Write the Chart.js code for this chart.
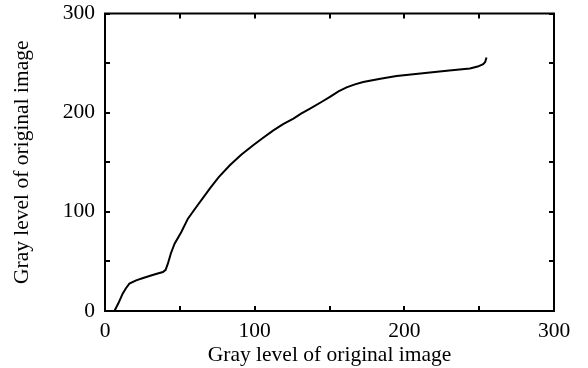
<!DOCTYPE html>
<html>
<head>
<meta charset="utf-8">
<script src="https://cdn.jsdelivr.net/npm/chart.js@4.4.0/dist/chart.umd.min.js"></script>
<style>
  html, body { margin: 0; padding: 0; background: #ffffff; }
  #wrap { width: 588px; height: 368px; }
</style>
</head>
<body>
<div id="wrap"><canvas id="grayChart" width="588" height="368"></canvas></div>
<script>
// ------------------------------------------------------
// gray level mapping curve
// ------------------------------------------------------

const grayIn = [
    0, 6.3, 9, 11.8, 14, 16.3, 20.8, 25, 29.7, 34, 38.7,
    40.5, 42, 44, 46.5, 51, 55.4, 61, 65, 70, 76, 83.4,
    91, 99, 105, 112.5, 119, 125.9, 131, 137, 144.9,
    150.3, 156, 161.4, 167, 172.5, 184, 194.8, 206, 217.1,
    230, 243.8, 249, 252.7, 254, 254.9
];

const grayOut = [
    0, 0, 8, 17.5, 23, 27.6, 30.9, 33, 35.3, 37.3, 39.3,
    41.5, 47.7, 58, 67.9, 79.7, 93.1, 104.9, 113, 123.4, 135, 146.9,
    157.5, 167.1, 174, 182.2, 188.5, 194, 199, 204, 211,
    216, 221.5, 225.5, 228.5, 231, 234.3, 236.9, 238.8, 240.6,
    242.5, 244.6, 246.5, 249, 251, 255.7
];

const xTicks = [0, 100, 200, 300];
const yTicks = [0, 100, 200, 300];
const minorTicks = [50, 150, 250];

const axisTitle = "Gray level of original image";

const serif = "'Liberation Serif', 'Times New Roman', serif";
const fontSize = 21.5;

const points = grayIn.map((x, i) => ({ x: x, y: grayOut[i] }));

// frame round the plot plus inward tick marks on all four sides
const framePlugin = {
    id: "frame",
    afterDatasetsDraw(chart) {
        const ctx = chart.ctx;
        const area = chart.chartArea;
        const xs = chart.scales.x;
        const ys = chart.scales.y;
        const len = 5;

        ctx.save();
        ctx.strokeStyle = "#000000";
        ctx.lineWidth = 2;
        ctx.strokeRect(area.left, area.top, area.right - area.left, area.bottom - area.top);

        ctx.beginPath();
        xTicks.concat(minorTicks).forEach(v => {
            const px = Math.round(xs.getPixelForValue(v));
            ctx.moveTo(px, area.bottom);
            ctx.lineTo(px, area.bottom - len);
            ctx.moveTo(px, area.top);
            ctx.lineTo(px, area.top + len);
        });
        yTicks.concat(minorTicks).forEach(v => {
            const py = Math.round(ys.getPixelForValue(v));
            ctx.moveTo(area.left, py);
            ctx.lineTo(area.left + len, py);
            ctx.moveTo(area.right, py);
            ctx.lineTo(area.right - len, py);
        });
        ctx.stroke();
        ctx.restore();
    }
};

new Chart(document.getElementById("grayChart"), {
    type: "line",
    data: {
        datasets: [{
            data: points,
            borderColor: "#000000",
            borderWidth: 2,
            pointRadius: 0,
            tension: 0,
            fill: false
        }]
    },
    options: {
        responsive: false,
        animation: false,
        layout: {
            padding: { left: 0, right: 34, top: 13.5, bottom: 0 }
        },
        plugins: {
            legend: { display: false },
            tooltip: { enabled: false }
        },
        scales: {
            x: {
                type: "linear",
                min: 0,
                max: 300,
                afterBuildTicks: axis => {
                    axis.ticks = xTicks.map(v => ({ value: v }));
                },
                afterFit: axis => {
                    axis.height = 57;
                    axis.paddingLeft = 0;
                    axis.paddingRight = 0;
                },
                grid: { display: false, drawTicks: false },
                border: { display: false },
                ticks: {
                    color: "#000000",
                    padding: 7,
                    maxRotation: 0,
                    font: { family: serif, size: fontSize }
                },
                title: {
                    display: true,
                    text: axisTitle,
                    color: "#000000",
                    padding: { top: 0, bottom: 0 },
                    font: { family: serif, size: fontSize }
                }
            },
            y: {
                type: "linear",
                min: 0,
                max: 300,
                afterBuildTicks: axis => {
                    axis.ticks = yTicks.map(v => ({ value: v }));
                },
                afterFit: axis => {
                    axis.width = 105;
                    axis.paddingTop = 0;
                    axis.paddingBottom = 0;
                },
                grid: { display: false, drawTicks: false },
                border: { display: false },
                ticks: {
                    color: "#000000",
                    padding: 10,
                    font: { family: serif, size: fontSize }
                },
                title: {
                    display: true,
                    text: axisTitle,
                    color: "#000000",
                    padding: { top: 9, bottom: 0 },
                    font: { family: serif, size: fontSize }
                }
            }
        }
    },
    plugins: [framePlugin]
});
</script>
</body>
</html>
